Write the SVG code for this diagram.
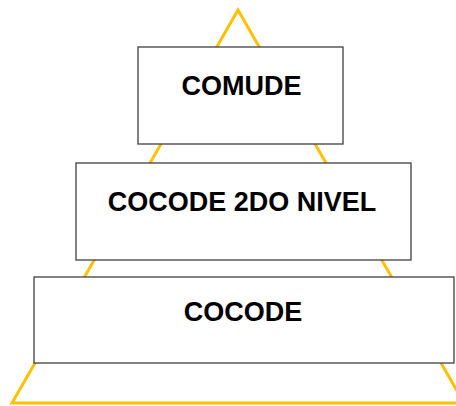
<svg xmlns="http://www.w3.org/2000/svg" width="456" height="406" viewBox="0 0 456 406">
  <style>
    .tri { fill: none; stroke: #FFC000; stroke-width: 3; stroke-linejoin: miter; }
    .box { fill: #FFFFFF; stroke: #3F3F3F; stroke-width: 1.3; }
    .lbl { font-family: "Liberation Sans", Arial, sans-serif; font-weight: bold; font-size: 27px; fill: #000000; text-anchor: middle; }
  </style>
  <rect width="456" height="406" fill="#FFFFFF"/>
  <!-- pyramid outline behind the tiers -->
  <g id="connectors">
    <polygon class="tri" points="238,10 464,403 12,403"/>
  </g>
  <g id="comude">
    <rect class="box" x="138" y="47" width="205" height="97"/>
    <text class="lbl" x="241.5" y="95">COMUDE</text>
  </g>
  <g id="cocode-2do-nivel">
    <rect class="box" x="76" y="163" width="335" height="97"/>
    <text class="lbl" x="242" y="211">COCODE 2DO NIVEL</text>
  </g>
  <g id="cocode">
    <rect class="box" x="34" y="277" width="420" height="86"/>
    <text class="lbl" x="243" y="321">COCODE</text>
  </g>
</svg>
